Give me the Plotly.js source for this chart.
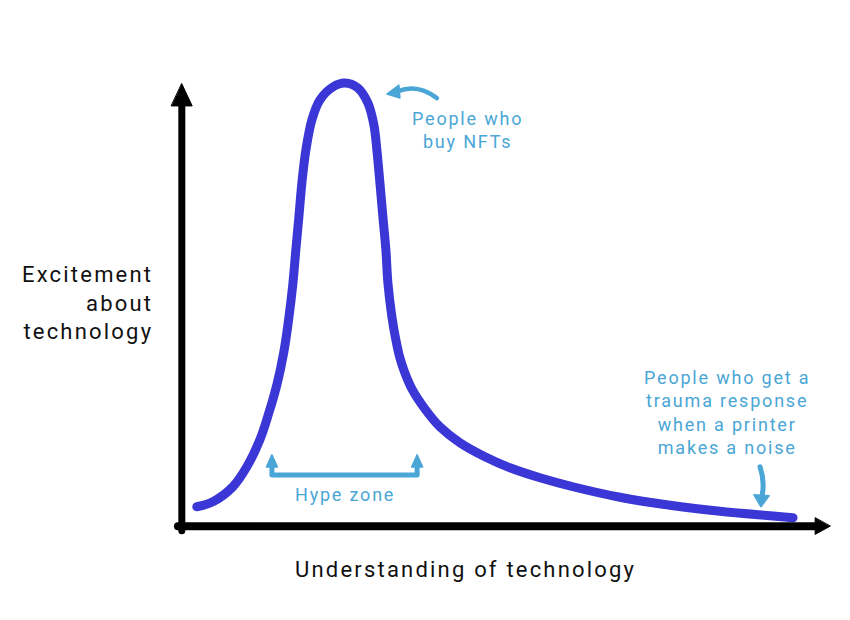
<!DOCTYPE html>
<html>
<head>
<meta charset="utf-8">
<script src="https://cdn.plot.ly/plotly-3.0.1.min.js"></script>
<style>
  html, body { margin: 0; padding: 0; background: #fff; }
  #chart { width: 850px; height: 620px; }
  text { letter-spacing: 0.1em; }
  .scatterlayer path.js-line { stroke-linecap: round; stroke-linejoin: round; }
  .shapelayer path { stroke-linecap: round; stroke-linejoin: round; }
</style>
</head>
<body>
<div id="chart"></div>
<script>
// Understanding of technology (0-100) vs excitement about technology (0-100)
const understanding = [2.31, 4.78, 7.87, 10.03, 12.04, 13.43, 14.66, 15.74, 16.51, 17.13, 17.59, 18.06, 18.52, 19.14, 20.06, 21.30, 23.30, 25.15, 27.16, 28.70, 29.63, 30.09, 30.56, 31.02, 31.48, 31.79, 32.41, 33.02, 33.64, 34.41, 35.49, 37.50, 39.81, 42.90, 46.76, 50.62, 55.25, 60.34, 67.59, 75.31, 83.02, 90.74, 94.29];
const excitement    = [4.74, 5.87, 9.26, 13.77, 19.87, 25.97, 32.29, 39.74, 47.42, 55.10, 62.77, 70.23, 77.90, 85.35, 92.13, 96.65, 99.58, 100.48, 99.35, 95.97, 91.00, 85.35, 77.90, 70.23, 62.77, 55.32, 47.65, 42.45, 38.39, 35.00, 31.39, 26.87, 22.81, 19.19, 16.03, 13.55, 11.29, 9.26, 6.89, 5.08, 3.73, 2.71, 2.26];

const xTitle = "Understanding of technology";
const yTitle = "Excitement<br>about<br>technology";
const nftLabel = "People who<br>buy NFTs";
const printerLabel = "People who get a<br>trauma response<br>when a printer<br>makes a noise";
const hypeLabel = "Hype zone";

const CURVE = "#3b36d6";
const NOTE = "#4aa6d6";
const FONT = "Roboto, 'Noto Sans', sans-serif";

const trace = {
  x: understanding,
  y: excitement,
  type: "scatter",
  mode: "lines",
  line: { color: CURVE, width: 9, shape: "spline", smoothing: 1 },
  cliponaxis: false,
  hoverinfo: "skip"
};

const shapes = [
  // y axis arrow
  { type: "line", xref: "x", yref: "y", x0: 0, x1: 0, y0: -0.7, y1: 96.6, line: { color: "#000", width: 7 } },
  { type: "path", xref: "x", yref: "y", path: "M -1.6,95.3 L 1.6,95.3 L 0,100.3 Z", fillcolor: "#000", line: { color: "#000", width: 1 } },
  // x axis arrow
  { type: "line", xref: "x", yref: "y", x0: -0.6, x1: 98.1, y0: 0.34, y1: 0.34, line: { color: "#000", width: 8 } },
  { type: "path", xref: "x", yref: "y", path: "M 97.7,2.2 L 97.7,-1.5 L 100.0,0.34 Z", fillcolor: "#000", line: { color: "#000", width: 1 } },
  // hype zone bracket
  { type: "path", xref: "x", yref: "y", path: "M 13.9,14.3 L 13.9,11.9 L 36.3,11.9 L 36.3,14.3", line: { color: NOTE, width: 5 } },
  { type: "path", xref: "x", yref: "y", path: "M 13.05,13.7 L 14.75,13.7 L 13.9,16.5 Z", fillcolor: NOTE, line: { color: NOTE, width: 1.5 } },
  { type: "path", xref: "x", yref: "y", path: "M 35.45,13.7 L 37.15,13.7 L 36.3,16.5 Z", fillcolor: NOTE, line: { color: NOTE, width: 1.5 } },
  // curved arrow toward the peak
  { type: "path", xref: "x", yref: "y", path: "M 39.35,97.07 Q 36.42,100.4 33.33,98.65", line: { color: NOTE, width: 4.5 } },
  { type: "path", xref: "x", yref: "y", path: "M 31.64,97.97 L 33.49,100.0 L 33.64,97.07 Z", fillcolor: NOTE, line: { color: NOTE, width: 1.5 } },
  // down arrow toward the tail
  { type: "path", xref: "x", yref: "y", path: "M 89.2,13.77 Q 89.97,10.38 89.51,7.22", line: { color: NOTE, width: 5 } },
  { type: "path", xref: "x", yref: "y", path: "M 89.35,4.74 L 88.27,7.45 L 90.59,7.22 Z", fillcolor: NOTE, line: { color: NOTE, width: 1.5 } }
];

const annotations = [
  { text: yTitle, xref: "x", yref: "y", x: -4.2, y: 50.8, xanchor: "right", yanchor: "middle", align: "right", showarrow: false, font: { family: FONT, size: 22, color: "#111" } },
  { text: xTitle, xref: "x", yref: "y", x: 43.7, y: -9.5, xanchor: "center", yanchor: "middle", showarrow: false, font: { family: FONT, size: 22, color: "#111" } },
  { text: nftLabel, xref: "x", yref: "y", x: 44.1, y: 89.8, xanchor: "center", yanchor: "middle", align: "center", showarrow: false, font: { family: FONT, size: 18, color: NOTE } },
  { text: printerLabel, xref: "x", yref: "y", x: 84.1, y: 26.0, xanchor: "center", yanchor: "middle", align: "center", showarrow: false, font: { family: FONT, size: 18, color: NOTE } },
  { text: hypeLabel, xref: "x", yref: "y", x: 25.2, y: 7.45, xanchor: "center", yanchor: "middle", showarrow: false, font: { family: FONT, size: 18, color: NOTE } }
];

const layout = {
  width: 850,
  height: 620,
  margin: { l: 117.2, r: 7, t: 63, b: 47.7 },
  paper_bgcolor: "#fff",
  plot_bgcolor: "#fff",
  showlegend: false,
  xaxis: { range: [-10, 102], visible: false, fixedrange: true },
  yaxis: { range: [-10, 105], visible: false, fixedrange: true },
  shapes: shapes,
  annotations: annotations
};

Plotly.newPlot("chart", [trace], layout, { staticPlot: true, displayModeBar: false });
</script>
</body>
</html>
